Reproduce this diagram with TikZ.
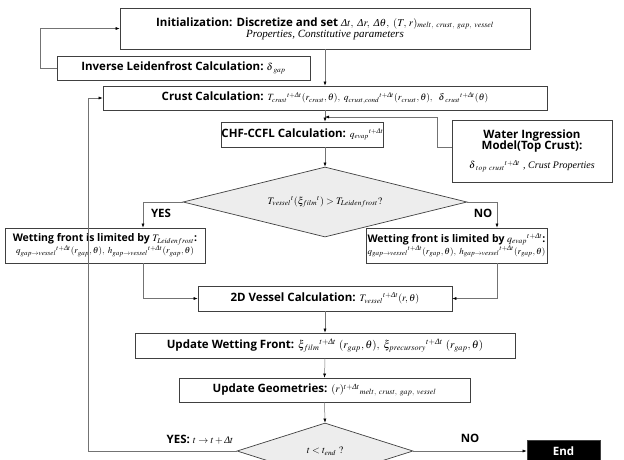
\documentclass[tikz,border=0pt]{standalone}
\usepackage{mathptmx}
\usepackage{amsmath}
\usepackage[no-math]{fontspec}
\setmainfont{Liberation Serif}
\setsansfont{Open Sans}
\usetikzlibrary{shapes.geometric,arrows.meta}
\newcommand{\mth}[2][10]{{\fontsize{#1}{#1}\selectfont$#2$}}
\newcommand{\Dl}{\text{\normalfont\itshape Δ}}
\newcommand{\dt}{\Dl t}
\newcommand{\dlt}{\delta\kern0.8pt}

\begin{document}
\begin{tikzpicture}[x=1pt,y=-1pt]
	\tikzstyle{box} = [draw=black!75, line width=0.7pt, inner sep=0, align=center, font=\sffamily\bfseries\fontsize{11.5}{13}\selectfont]
	\tikzstyle{dec} = [draw=black!75, line width=0.7pt, fill=black!7, diamond, inner sep=0, aspect=4]
	\tikzstyle{ln} = [draw=black!55, line width=0.5pt, -{Latex[length=4pt,width=3pt,color=black]}]
	\tikzstyle{lbl} = [font=\sffamily\bfseries\fontsize{11.5}{13}\selectfont]
	\useasboundingbox (0,0) rectangle (624,459);

	\node [box,minimum width=410,minimum height=41] (init) at (325,28.5) {Initialization: Discretize and set \mth[10.5]{\Dl t,\ \Dl r,\ \Dl\theta,\ (T,\,r)_{melt,\ crust,\ gap,\ vessel}}\\[-2pt] {\normalfont\itshape\fontsize{11}{12}\selectfont Properties, Constitutive parameters}};
	\node [box,minimum width=253,minimum height=24] (inv) at (183.5,68) {Inverse Leidenfrost Calculation:\ \mth{\dlt_{gap}}};
	\node [box,minimum width=444,minimum height=24] (crust) at (325,98) {Crust Calculation: \mth[9.5]{T_{crust}{}^{t+\dt}(r_{crust},\theta),\ q_{crust,cond}{}^{t+\dt}(r_{crust},\theta),\ \ \dlt_{crust}{}^{t+\dt}(\theta)}};
	\node [box,minimum width=161,minimum height=25] (chf) at (302.5,134.5) {CHF-CCFL Calculation: \mth[9.5]{q_{evap}{}^{t+\dt}}};
	\node [box,minimum width=160,minimum height=62] (water) at (532,151) {Water Ingression\\[-2pt]Model(Top Crust):\\[6pt] \mth{\dlt_{top\ crust}{}^{t+\dt}}\ {\normalfont\itshape\fontsize{10}{11}\selectfont, Crust Properties}};
	\node [dec,minimum width=284,minimum height=70] (d1) at (325,202) {\mth{T_{vessel}{}^{t}(\xi_{film}{}^{t}) > T_{Leidenfrost}?}};

	\node [box,font=\sffamily\bfseries\fontsize{10.5}{12}\selectfont,minimum width=200,minimum height=35] (wl) at (105,245.5) {Wetting front is limited by \mth{T_{Leidenfrost}}:\\ \mth[9]{q_{gap\rightarrow vessel}{}^{t+\dt}(r_{gap},\theta),\ h_{gap\rightarrow vessel}{}^{t+\dt}(r_{gap},\theta)}};
	\node [box,font=\sffamily\bfseries\fontsize{10.5}{12}\selectfont,minimum width=181,minimum height=35] (wr) at (456.5,245.5) {Wetting front is limited by \mth{q_{evap}{}^{t+\dt}}:\\ \mth[9]{q_{gap\rightarrow vessel}{}^{t+\dt}(r_{gap},\theta),\ h_{gap\rightarrow vessel}{}^{t+\dt}(r_{gap},\theta)}};

	\node [box,minimum width=254,minimum height=25] (vessel) at (325,298.5) {2D Vessel Calculation: \mth{T_{vessel}{}^{t+\dt}(r,\theta)}};
	\node [box,minimum width=380,minimum height=25] (uwf) at (325,345.5) {Update Wetting Front: \mth[11]{\xi_{film}{}^{t+\dt}\ (r_{gap},\theta),\ \xi_{precursory}{}^{t+\dt}\ (r_{gap},\theta)}};
	\node [box,minimum width=291,minimum height=24] (geom) at (324.5,390) {Update Geometries: \mth[10.5]{(r)^{t+\dt}{}_{melt,\ crust,\ gap,\ vessel}}};
	\node [dec,minimum width=176,minimum height=56] (d2) at (325,451) {\mth{t < t_{end}\ ?}};
	\node [box,fill=black,text=white,minimum width=73,minimum height=22] (end) at (563.5,451) {End};

	\coordinate (c1) at (40,68);
	\coordinate (c2) at (40,28.5);
	\coordinate (w1) at (437,147);
	\coordinate (w2) at (437,117);
	\coordinate (w3) at (325,117);
	\coordinate (l1) at (143,202);
	\coordinate (r1) at (497,202);
	\coordinate (l2) at (143,298.5);
	\coordinate (r2) at (497,298.5);
	\coordinate (b1) at (88,451);
	\coordinate (b2) at (88,98);

	\draw [ln] (inv.west) -- (c1) -- (c2) -- (init.west);
	\draw [ln] (init.south) -- (crust.north);
	\draw [ln] (crust.south) -- (crust.south |- chf.north);
	\draw [ln] (water.west |- w1) -- (w1) -- (w2) -- (w3);
	\draw [ln] (crust.south |- chf.south) -- (d1.north);
	\draw [ln] (d1.west) -- (l1) -- (l1 |- wl.north);
	\draw [ln] (d1.east) -- (r1) -- (r1 |- wr.north);
	\draw [ln] (l1 |- wl.south) -- (l2) -- (vessel.west);
	\draw [ln] (r1 |- wr.south) -- (r2) -- (vessel.east);
	\draw [ln] (vessel.south) -- (uwf.north);
	\draw [ln] (uwf.south) -- (geom.north);
	\draw [ln] (geom.south) -- (d2.north);
	\draw [ln] (d2.east) -- (end.west);
	\draw [ln] (d2.west) -- (b1) -- (b2) -- (crust.west);

	\node [lbl] (yes1) at (161,213) {YES};
	\node [lbl] (no1) at (483,213) {NO};
	\node [lbl] (yes2) at (200,440) {YES: \mth{t\rightarrow t+\dt}};
	\node [lbl] (no2) at (470,438) {NO};
\end{tikzpicture}
\end{document}
